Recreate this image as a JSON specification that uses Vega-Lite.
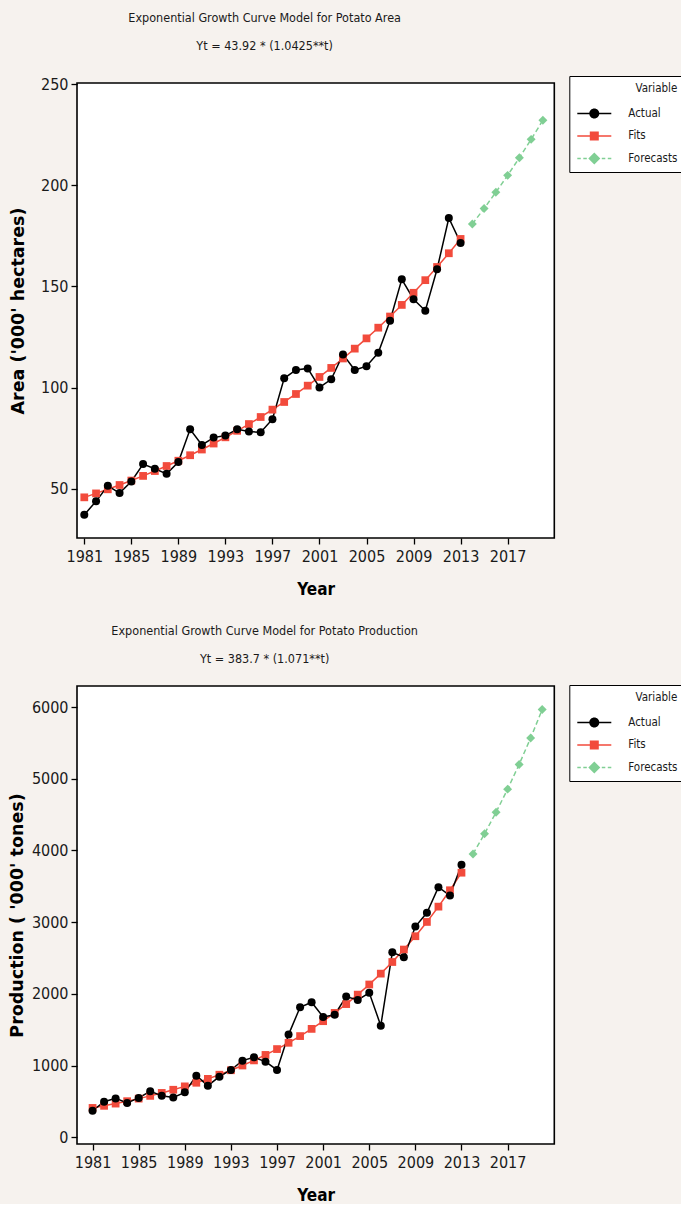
{
  "$schema": "https://vega.github.io/schema/vega-lite/v6.json",
  "background": "#f6f2ee",
  "padding": {"left": 8, "top": 11, "right": 0, "bottom": 0},
  "autosize": {"type": "pad"},
  "spacing": 26,
  "bounds": "full",
  "resolve": {"scale": {"color": "independent", "shape": "independent"}, "legend": {"color": "independent", "shape": "independent"}},
  "config": {
    "view": {"fill": "white", "stroke": "black", "strokeWidth": 1.6},
    "axis": {
      "domain": false, "grid": false, "ticks": true, "tickColor": "black", "tickSize": 6, "tickWidth": 1.3,
      "labelFont": "DejaVu Sans Condensed, DejaVu Sans", "labelFontSize": 16, "labelColor": "#1a1a1a", "labelPadding": 3,
      "titleColor": "black"
    },
    "axisX": {"titleFont": "DejaVu Sans Condensed, DejaVu Sans", "titleFontSize": 17, "titleFontWeight": "bold", "titlePadding": 17, "labelPadding": 4},
    "axisY": {"titleFont": "DejaVu Sans", "titleFontSize": 17.5, "titleFontWeight": "bold", "titlePadding": 9},
    "title": {"font": "DejaVu Sans Condensed, DejaVu Sans", "fontSize": 12.5, "fontWeight": "normal", "color": "#1a1a1a", "lineHeight": 28, "anchor": "middle"},
    "legend": {
      "orient": "none", "strokeColor": "black", "fillColor": "white", "padding": 7,
      "symbolSize": 100, "symbolOffset": 12, "labelOffset": 28, "rowPadding": 10.5, "titlePadding": 13,
      "titleAnchor": "end",
      "labelFont": "DejaVu Sans Condensed, DejaVu Sans", "labelFontSize": 11.5, "labelColor": "#1a1a1a",
      "titleFont": "DejaVu Sans Condensed, DejaVu Sans", "titleFontSize": 11.5, "titleFontWeight": "normal", "titleColor": "#1a1a1a"
    }
  },
  "datasets": {
    "area": [
      {"Year": 1981, "Variable": "Actual", "Value": 37.2},
      {"Year": 1982, "Variable": "Actual", "Value": 43.8},
      {"Year": 1983, "Variable": "Actual", "Value": 51.5},
      {"Year": 1984, "Variable": "Actual", "Value": 47.9},
      {"Year": 1985, "Variable": "Actual", "Value": 53.6},
      {"Year": 1986, "Variable": "Actual", "Value": 62.2},
      {"Year": 1987, "Variable": "Actual", "Value": 59.9},
      {"Year": 1988, "Variable": "Actual", "Value": 57.4},
      {"Year": 1989, "Variable": "Actual", "Value": 63.2},
      {"Year": 1990, "Variable": "Actual", "Value": 79.4},
      {"Year": 1991, "Variable": "Actual", "Value": 71.7},
      {"Year": 1992, "Variable": "Actual", "Value": 75.3},
      {"Year": 1993, "Variable": "Actual", "Value": 76.3},
      {"Year": 1994, "Variable": "Actual", "Value": 79.4},
      {"Year": 1995, "Variable": "Actual", "Value": 78.3},
      {"Year": 1996, "Variable": "Actual", "Value": 77.9},
      {"Year": 1997, "Variable": "Actual", "Value": 84.4},
      {"Year": 1998, "Variable": "Actual", "Value": 104.6},
      {"Year": 1999, "Variable": "Actual", "Value": 108.7},
      {"Year": 2000, "Variable": "Actual", "Value": 109.5},
      {"Year": 2001, "Variable": "Actual", "Value": 100.1},
      {"Year": 2002, "Variable": "Actual", "Value": 104.1},
      {"Year": 2003, "Variable": "Actual", "Value": 116.4},
      {"Year": 2004, "Variable": "Actual", "Value": 108.7},
      {"Year": 2005, "Variable": "Actual", "Value": 110.6},
      {"Year": 2006, "Variable": "Actual", "Value": 117.2},
      {"Year": 2007, "Variable": "Actual", "Value": 133.0},
      {"Year": 2008, "Variable": "Actual", "Value": 153.5},
      {"Year": 2009, "Variable": "Actual", "Value": 143.7},
      {"Year": 2010, "Variable": "Actual", "Value": 138.0},
      {"Year": 2011, "Variable": "Actual", "Value": 158.5},
      {"Year": 2012, "Variable": "Actual", "Value": 183.8},
      {"Year": 2013, "Variable": "Actual", "Value": 171.5},
      {"Year": 1981, "Variable": "Fits", "Value": 45.79},
      {"Year": 1982, "Variable": "Fits", "Value": 47.73},
      {"Year": 1983, "Variable": "Fits", "Value": 49.76},
      {"Year": 1984, "Variable": "Fits", "Value": 51.88},
      {"Year": 1985, "Variable": "Fits", "Value": 54.08},
      {"Year": 1986, "Variable": "Fits", "Value": 56.38},
      {"Year": 1987, "Variable": "Fits", "Value": 58.78},
      {"Year": 1988, "Variable": "Fits", "Value": 61.27},
      {"Year": 1989, "Variable": "Fits", "Value": 63.88},
      {"Year": 1990, "Variable": "Fits", "Value": 66.59},
      {"Year": 1991, "Variable": "Fits", "Value": 69.42},
      {"Year": 1992, "Variable": "Fits", "Value": 72.37},
      {"Year": 1993, "Variable": "Fits", "Value": 75.45},
      {"Year": 1994, "Variable": "Fits", "Value": 78.66},
      {"Year": 1995, "Variable": "Fits", "Value": 82.0},
      {"Year": 1996, "Variable": "Fits", "Value": 85.48},
      {"Year": 1997, "Variable": "Fits", "Value": 89.12},
      {"Year": 1998, "Variable": "Fits", "Value": 92.9},
      {"Year": 1999, "Variable": "Fits", "Value": 96.85},
      {"Year": 2000, "Variable": "Fits", "Value": 100.97},
      {"Year": 2001, "Variable": "Fits", "Value": 105.26},
      {"Year": 2002, "Variable": "Fits", "Value": 109.73},
      {"Year": 2003, "Variable": "Fits", "Value": 114.4},
      {"Year": 2004, "Variable": "Fits", "Value": 119.26},
      {"Year": 2005, "Variable": "Fits", "Value": 124.33},
      {"Year": 2006, "Variable": "Fits", "Value": 129.61},
      {"Year": 2007, "Variable": "Fits", "Value": 135.12},
      {"Year": 2008, "Variable": "Fits", "Value": 140.86},
      {"Year": 2009, "Variable": "Fits", "Value": 146.85},
      {"Year": 2010, "Variable": "Fits", "Value": 153.09},
      {"Year": 2011, "Variable": "Fits", "Value": 159.6},
      {"Year": 2012, "Variable": "Fits", "Value": 166.38},
      {"Year": 2013, "Variable": "Fits", "Value": 173.45},
      {"Year": 2014, "Variable": "Forecasts", "Value": 180.82},
      {"Year": 2015, "Variable": "Forecasts", "Value": 188.51},
      {"Year": 2016, "Variable": "Forecasts", "Value": 196.52},
      {"Year": 2017, "Variable": "Forecasts", "Value": 204.87},
      {"Year": 2018, "Variable": "Forecasts", "Value": 213.58},
      {"Year": 2019, "Variable": "Forecasts", "Value": 222.66},
      {"Year": 2020, "Variable": "Forecasts", "Value": 232.12}
    ],
    "prod": [
      {"Year": 1981, "Variable": "Actual", "Value": 372},
      {"Year": 1982, "Variable": "Actual", "Value": 498},
      {"Year": 1983, "Variable": "Actual", "Value": 544},
      {"Year": 1984, "Variable": "Actual", "Value": 480},
      {"Year": 1985, "Variable": "Actual", "Value": 550},
      {"Year": 1986, "Variable": "Actual", "Value": 642},
      {"Year": 1987, "Variable": "Actual", "Value": 582},
      {"Year": 1988, "Variable": "Actual", "Value": 558},
      {"Year": 1989, "Variable": "Actual", "Value": 628},
      {"Year": 1990, "Variable": "Actual", "Value": 861},
      {"Year": 1991, "Variable": "Actual", "Value": 721},
      {"Year": 1992, "Variable": "Actual", "Value": 847},
      {"Year": 1993, "Variable": "Actual", "Value": 940},
      {"Year": 1994, "Variable": "Actual", "Value": 1070},
      {"Year": 1995, "Variable": "Actual", "Value": 1116},
      {"Year": 1996, "Variable": "Actual", "Value": 1056},
      {"Year": 1997, "Variable": "Actual", "Value": 940},
      {"Year": 1998, "Variable": "Actual", "Value": 1433},
      {"Year": 1999, "Variable": "Actual", "Value": 1814},
      {"Year": 2000, "Variable": "Actual", "Value": 1884},
      {"Year": 2001, "Variable": "Actual", "Value": 1680},
      {"Year": 2002, "Variable": "Actual", "Value": 1710},
      {"Year": 2003, "Variable": "Actual", "Value": 1963},
      {"Year": 2004, "Variable": "Actual", "Value": 1917},
      {"Year": 2005, "Variable": "Actual", "Value": 2015},
      {"Year": 2006, "Variable": "Actual", "Value": 1558},
      {"Year": 2007, "Variable": "Actual", "Value": 2581},
      {"Year": 2008, "Variable": "Actual", "Value": 2512},
      {"Year": 2009, "Variable": "Actual", "Value": 2940},
      {"Year": 2010, "Variable": "Actual", "Value": 3131},
      {"Year": 2011, "Variable": "Actual", "Value": 3488},
      {"Year": 2012, "Variable": "Actual", "Value": 3372},
      {"Year": 2013, "Variable": "Actual", "Value": 3801},
      {"Year": 1981, "Variable": "Fits", "Value": 410.9},
      {"Year": 1982, "Variable": "Fits", "Value": 440.1},
      {"Year": 1983, "Variable": "Fits", "Value": 471.4},
      {"Year": 1984, "Variable": "Fits", "Value": 504.8},
      {"Year": 1985, "Variable": "Fits", "Value": 540.7},
      {"Year": 1986, "Variable": "Fits", "Value": 579.1},
      {"Year": 1987, "Variable": "Fits", "Value": 620.2},
      {"Year": 1988, "Variable": "Fits", "Value": 664.2},
      {"Year": 1989, "Variable": "Fits", "Value": 711.4},
      {"Year": 1990, "Variable": "Fits", "Value": 761.9},
      {"Year": 1991, "Variable": "Fits", "Value": 816.0},
      {"Year": 1992, "Variable": "Fits", "Value": 873.9},
      {"Year": 1993, "Variable": "Fits", "Value": 936.0},
      {"Year": 1994, "Variable": "Fits", "Value": 1002.4},
      {"Year": 1995, "Variable": "Fits", "Value": 1073.6},
      {"Year": 1996, "Variable": "Fits", "Value": 1149.8},
      {"Year": 1997, "Variable": "Fits", "Value": 1231.4},
      {"Year": 1998, "Variable": "Fits", "Value": 1318.9},
      {"Year": 1999, "Variable": "Fits", "Value": 1412.5},
      {"Year": 2000, "Variable": "Fits", "Value": 1512.8},
      {"Year": 2001, "Variable": "Fits", "Value": 1620.2},
      {"Year": 2002, "Variable": "Fits", "Value": 1735.3},
      {"Year": 2003, "Variable": "Fits", "Value": 1858.5},
      {"Year": 2004, "Variable": "Fits", "Value": 1990.4},
      {"Year": 2005, "Variable": "Fits", "Value": 2131.7},
      {"Year": 2006, "Variable": "Fits", "Value": 2283.1},
      {"Year": 2007, "Variable": "Fits", "Value": 2445.2},
      {"Year": 2008, "Variable": "Fits", "Value": 2618.8},
      {"Year": 2009, "Variable": "Fits", "Value": 2804.7},
      {"Year": 2010, "Variable": "Fits", "Value": 3003.9},
      {"Year": 2011, "Variable": "Fits", "Value": 3217.1},
      {"Year": 2012, "Variable": "Fits", "Value": 3445.5},
      {"Year": 2013, "Variable": "Fits", "Value": 3690.2},
      {"Year": 2014, "Variable": "Forecasts", "Value": 3952.2},
      {"Year": 2015, "Variable": "Forecasts", "Value": 4232.8},
      {"Year": 2016, "Variable": "Forecasts", "Value": 4533.3},
      {"Year": 2017, "Variable": "Forecasts", "Value": 4855.2},
      {"Year": 2018, "Variable": "Forecasts", "Value": 5199.9},
      {"Year": 2019, "Variable": "Forecasts", "Value": 5569.1},
      {"Year": 2020, "Variable": "Forecasts", "Value": 5964.5}
    ]
  },
  "vconcat": [
    {
      "resolve": {"scale": {"color": "independent", "shape": "independent"}, "legend": {"color": "independent", "shape": "independent"}},
      "hconcat": [
        {
          "width": 477.3,
          "height": 455,
          "data": {"name": "area"},
          "title": {"text": ["Exponential Growth Curve Model for Potato Area", "Yt = 43.92 * (1.0425**t)"], "dx": -51, "offset": 23},
          "encoding": {
            "x": {"field": "Year", "type": "quantitative", "scale": {"domain": [1980.38, 2020.97], "nice": false, "zero": false},
                  "axis": {"values": [1981, 1985, 1989, 1993, 1997, 2001, 2005, 2009, 2013, 2017], "format": "d", "title": "Year"}},
            "y": {"field": "Value", "type": "quantitative", "scale": {"domain": [25.7, 250.5], "nice": false, "zero": false},
                  "axis": {"values": [50, 100, 150, 200, 250], "format": "d", "title": "Area ('000' hectares)", "titlePadding": 12.7}}
          },
          "layer": [
            {"transform": [{"filter": "datum.Variable === 'Fits'"}], "mark": {"type": "line", "strokeWidth": 1.5, "color": "#f24b3c"}},
            {"transform": [{"filter": "datum.Variable === 'Actual'"}], "mark": {"type": "line", "strokeWidth": 1.5, "color": "#000000"}},
            {"transform": [{"filter": "datum.Variable === 'Forecasts'"}], "mark": {"type": "line", "strokeWidth": 1.5, "color": "#80cf94", "strokeDash": [5, 3]}},
            {"transform": [{"filter": "datum.Variable === 'Fits'"}], "mark": {"type": "point", "shape": "square", "filled": true, "size": 60, "opacity": 1, "color": "#f24b3c"}},
            {"transform": [{"filter": "datum.Variable === 'Actual'"}], "mark": {"type": "point", "shape": "circle", "filled": true, "size": 64, "opacity": 1, "color": "#000000"}},
            {"transform": [{"filter": "datum.Variable === 'Forecasts'"}], "mark": {"type": "point", "shape": "diamond", "filled": true, "size": 80, "opacity": 1, "color": "#80cf94"}},
            {
              "transform": [{"filter": "datum.Year < 0"}],
              "mark": {"type": "point", "filled": true, "opacity": 1},
              "encoding": {
                "color": {"field": "Variable", "type": "nominal", "scale": {"domain": ["Actual", "Fits", "Forecasts"], "range": ["#000000", "#f24b3c", "#80cf94"]},
                          "legend": {"title": "Variable", "legendX": 492.3, "legendY": -7}},
                "shape": {"field": "Variable", "type": "nominal",
                          "scale": {"domain": ["Actual", "Fits", "Forecasts"], "range": [
                            "M-3.4,-0.15H-0.9V0.15H-3.4Z M0.9,-0.15H3.4V0.15H0.9Z M1,0A1,1 0 1 1 -1,0A1,1 0 1 1 1,0Z",
                            "M-3.4,-0.15H-0.9V0.15H-3.4Z M0.9,-0.15H3.4V0.15H0.9Z M-0.9,-0.9H0.9V0.9H-0.9Z",
                            "M-3.4,-0.15H-2.7V0.15H-3.4Z M-2.2,-0.15H-1.5V0.15H-2.2Z M1.5,-0.15H2.2V0.15H1.5Z M2.7,-0.15H3.4V0.15H2.7Z M0,-1.2L1.2,0L0,1.2L-1.2,0Z"]},
                          "legend": {"title": "Variable", "legendX": 492.3, "legendY": -7}}
              }
            }
          ]
        }
      ]
    },
    {
      "resolve": {"scale": {"color": "independent", "shape": "independent"}, "legend": {"color": "independent", "shape": "independent"}},
      "hconcat": [
        {
          "width": 477.3,
          "height": 458,
          "data": {"name": "prod"},
          "title": {"text": ["Exponential Growth Curve Model for Potato Production", "Yt = 383.7 * (1.071**t)"], "dx": -51, "offset": 19},
          "encoding": {
            "x": {"field": "Year", "type": "quantitative", "scale": {"domain": [1979.65, 2021.05], "nice": false, "zero": false},
                  "axis": {"values": [1981, 1985, 1989, 1993, 1997, 2001, 2005, 2009, 2013, 2017], "format": "d", "title": "Year"}},
            "y": {"field": "Value", "type": "quantitative", "scale": {"domain": [-92, 6293], "nice": false, "zero": false},
                  "axis": {"values": [0, 1000, 2000, 3000, 4000, 5000, 6000], "format": "d", "title": "Production ( '000' tones)", "titlePadding": 4.4}}
          },
          "layer": [
            {"transform": [{"filter": "datum.Variable === 'Fits'"}], "mark": {"type": "line", "strokeWidth": 1.5, "color": "#f24b3c"}},
            {"transform": [{"filter": "datum.Variable === 'Actual'"}], "mark": {"type": "line", "strokeWidth": 1.5, "color": "#000000"}},
            {"transform": [{"filter": "datum.Variable === 'Forecasts'"}], "mark": {"type": "line", "strokeWidth": 1.5, "color": "#80cf94", "strokeDash": [5, 3]}},
            {"transform": [{"filter": "datum.Variable === 'Fits'"}], "mark": {"type": "point", "shape": "square", "filled": true, "size": 60, "opacity": 1, "color": "#f24b3c"}},
            {"transform": [{"filter": "datum.Variable === 'Actual'"}], "mark": {"type": "point", "shape": "circle", "filled": true, "size": 64, "opacity": 1, "color": "#000000"}},
            {"transform": [{"filter": "datum.Variable === 'Forecasts'"}], "mark": {"type": "point", "shape": "diamond", "filled": true, "size": 80, "opacity": 1, "color": "#80cf94"}},
            {
              "transform": [{"filter": "datum.Year < 0"}],
              "mark": {"type": "point", "filled": true, "opacity": 1},
              "encoding": {
                "color": {"field": "Variable", "type": "nominal", "scale": {"domain": ["Actual", "Fits", "Forecasts"], "range": ["#000000", "#f24b3c", "#80cf94"]},
                          "legend": {"title": "Variable", "legendX": 492.3, "legendY": -1}},
                "shape": {"field": "Variable", "type": "nominal",
                          "scale": {"domain": ["Actual", "Fits", "Forecasts"], "range": [
                            "M-3.4,-0.15H-0.9V0.15H-3.4Z M0.9,-0.15H3.4V0.15H0.9Z M1,0A1,1 0 1 1 -1,0A1,1 0 1 1 1,0Z",
                            "M-3.4,-0.15H-0.9V0.15H-3.4Z M0.9,-0.15H3.4V0.15H0.9Z M-0.9,-0.9H0.9V0.9H-0.9Z",
                            "M-3.4,-0.15H-2.7V0.15H-3.4Z M-2.2,-0.15H-1.5V0.15H-2.2Z M1.5,-0.15H2.2V0.15H1.5Z M2.7,-0.15H3.4V0.15H2.7Z M0,-1.2L1.2,0L0,1.2L-1.2,0Z"]},
                          "legend": {"title": "Variable", "legendX": 492.3, "legendY": -1}}
              }
            }
          ]
        }
      ]
    }
  ]
}
